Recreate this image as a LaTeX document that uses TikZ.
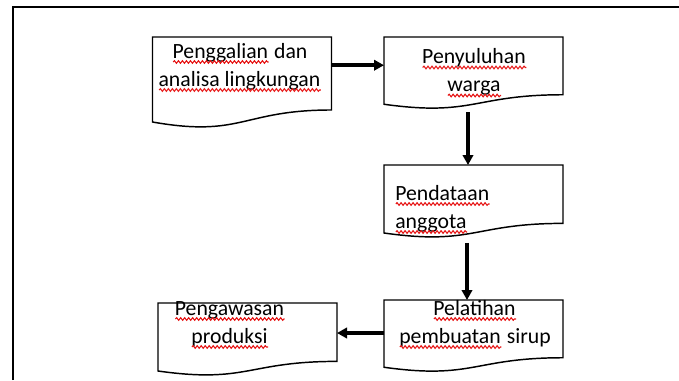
\documentclass[tikz,border=0pt]{standalone}
\usepackage{fontspec}
\setmainfont{Carlito}
\usetikzlibrary{positioning,arrows.meta,calc,decorations.pathmorphing}
\definecolor{spellred}{RGB}{230,20,20}

\newsavebox{\spellbox}
% red wavy underline under a word
\newcommand{\spellwave}[1]{\sbox{\spellbox}{#1}\rlap{\usebox{\spellbox}}%
  \tikz[baseline=0pt, x=1pt, y=1pt]\draw[spellred, line width=0.8pt, decorate,
    decoration={snake, amplitude=1pt, segment length=3pt}] (0pt,-3pt) -- (\wd\spellbox,-3pt);}

% outline of a document box with a wavy bottom edge
\newcommand{\docoutline}[1]{%
  \draw[docline] (#1.north west) -- (#1.north east)
    -- ($(#1.north east)!0.802!(#1.south east)$)
    .. controls ($(#1.north)!0.802!(#1.south)$) and ($(#1.north)!1.1075!(#1.south)$)
    .. ($(#1.north west)!0.934!(#1.south west)$) -- cycle;}

\begin{document}
\begin{tikzpicture}[x=0.75pt, y=-0.75pt, every node/.style={font=\fontsize{16.3}{21}\selectfont}]
  \tikzset{
      docbox/.style={minimum width=134.25pt, minimum height=54pt, inner sep=0pt, outer sep=0pt, anchor=north west},
      docline/.style={line width=1.1pt},
      flow/.style={line width=2.6pt, -{Triangle[length=7.5pt, width=7.8pt]}},
      frame/.style={line width=1.5pt},
      doctext/.style={anchor=base, align=center, inner sep=0pt}
  }
  \useasboundingbox (0,0) rectangle (679,380);
  \draw[frame] (13,380) -- (13,7) -- (679,7);

  % boxes
  \node[docbox, minimum height=68.25pt] (b1) at (152.5,37) {};
  \node[docbox] (b2) at (384,37) {};
  \node[docbox, minimum height=54.6pt] (b3) at (384,165) {};
  \node[docbox] (b4) at (384,300) {};
  \node[docbox, minimum height=54.6pt] (b5) at (158,303) {};
  \foreach \b in {b1,b2,b3,b4,b5} {\docoutline{\b}}

  % texts (anchored on the last line)
  \node[doctext] (t1) at (240,86) {\spellwave{Penggalian} dan\\\spellwave{analisa lingkungan}};
  \node[doctext] (t2) at (474.5,91.5) {\spellwave{Penyuluhan}\\\spellwave{warga}};
  \node[doctext, align=left, anchor=base west] (t3) at (395,228) {\spellwave{Pendataan}\\\spellwave{anggota}};
  \node[doctext] (t4) at (475,343) {\spellwave{Pelatihan}\\\spellwave{pembuatan} sirup};
  \node[doctext] (t5) at (230,343) {\spellwave{Pengawasan}\\\spellwave{produksi}};

  % arrows
  \coordinate (a1) at ($(b1.north east)!0.31!(b1.south east)$);
  \coordinate (a2) at ($(b2.south)+(-5.5,3)$);
  \coordinate (a3) at ($(b3.south)+(-6.5,5)$);
  \coordinate (a4) at ($(b4.west)+(0,-3)$);
  \draw[flow] (a1) -- (a1 -| b2.west);
  \draw[flow] (a2) -- (a2 |- b3.north);
  \draw[flow] (a3) -- (a3 |- b4.north);
  \draw[flow] (a4) -- (a4 -| b5.east);
\end{tikzpicture}
\end{document}
